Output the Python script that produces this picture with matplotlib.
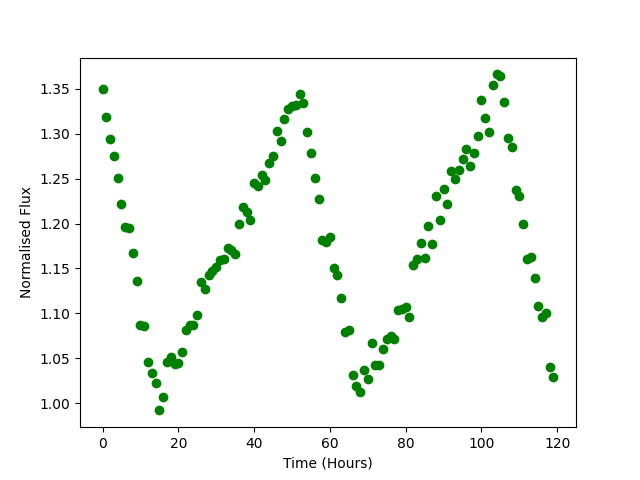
import matplotlib
matplotlib.use('Agg')
import matplotlib.pyplot as plt
import numpy as np

# hourly flux readings, 0..119 h
hours = np.arange(120)
flux = [
    1.350, 1.319, 1.294, 1.275, 1.251, 1.222, 1.196, 1.195, 1.167, 1.136,
    1.087, 1.086, 1.046, 1.034, 1.023, 0.992, 1.007, 1.046, 1.051, 1.044,
    1.045, 1.057, 1.081, 1.087, 1.087, 1.098, 1.135, 1.127, 1.143, 1.147,
    1.152, 1.159, 1.160, 1.173, 1.170, 1.166, 1.200, 1.218, 1.213, 1.204,
    1.245, 1.242, 1.254, 1.249, 1.267, 1.275, 1.303, 1.292, 1.316, 1.327,
    1.331, 1.332, 1.344, 1.334, 1.302, 1.278, 1.251, 1.227, 1.182, 1.179,
    1.185, 1.151, 1.143, 1.117, 1.079, 1.082, 1.031, 1.019, 1.012, 1.037,
    1.027, 1.067, 1.043, 1.043, 1.060, 1.071, 1.075, 1.071, 1.104, 1.105,
    1.107, 1.096, 1.154, 1.161, 1.178, 1.162, 1.197, 1.177, 1.231, 1.204,
    1.238, 1.222, 1.258, 1.250, 1.260, 1.272, 1.283, 1.264, 1.278, 1.297,
    1.338, 1.317, 1.302, 1.354, 1.366, 1.364, 1.335, 1.295, 1.285, 1.237,
    1.231, 1.200, 1.161, 1.163, 1.139, 1.108, 1.096, 1.100, 1.040, 1.029,
]

fig, ax = plt.subplots(figsize=(6.4, 4.8), dpi=100)
ax.plot(hours, flux, 'go')
ax.set_xlabel('Time (Hours)')
ax.set_ylabel('Normalised Flux')
fig.savefig('out.png')
plt.close(fig)
